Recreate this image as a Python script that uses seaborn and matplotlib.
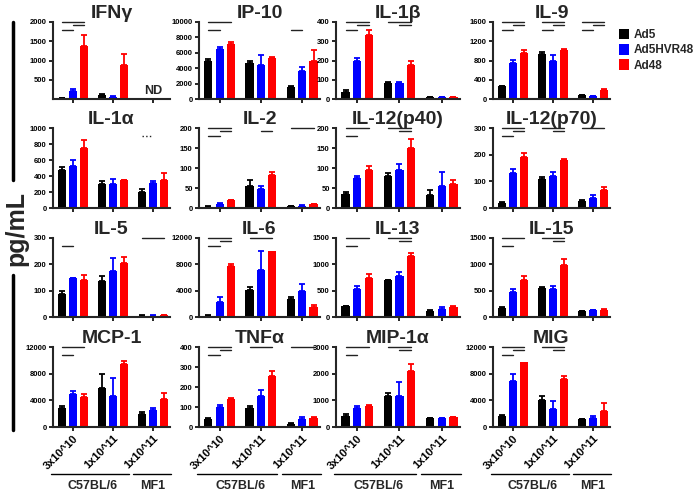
import numpy as np
import pandas as pd
import matplotlib
matplotlib.use('Agg')
import matplotlib.pyplot as plt
import matplotlib.transforms as mtransforms
from matplotlib.lines import Line2D
from matplotlib.patches import Patch
import seaborn as sns

VIRUSES = ['Ad5', 'Ad5HVR48', 'Ad48']
COLOURS = {'Ad5': '#000000', 'Ad5HVR48': '#0000FF', 'Ad48': '#FF0000'}
GROUPS = ['g1', 'g2', 'g3']
DOSES = ['3x10^10', '1x10^11', '1x10^11']
STRAINS = ['C57BL/6', 'MF1']

ND = np.nan

# means: one row per dose group, columns follow VIRUSES; *_ERR = upper error bar
IFNG = [[20, 210, 1380], [100, 60, 880], [ND, ND, ND]]
IFNG_ERR = [[10, 40, 290], [20, 15, 300], [ND, ND, ND]]
IP10 = [[5000, 6500, 7200], [4700, 4400, 5300], [1600, 3600, 5000]]
IP10_ERR = [[250, 200, 250], [200, 1300, 150], [100, 500, 1350]]
IL1B = [[35, 200, 335], [85, 85, 175], [8, 10, 10]]
IL1B_ERR = [[12, 12, 25], [2, 2, 25], [2, 2, 2]]
IL9 = [[260, 740, 960], [930, 800, 1015], [75, 62, 180]]
IL9_ERR = [[20, 70, 50], [50, 120, 30], [5, 5, 25]]

IL1A = [[470, 530, 745], [300, 300, 345], [205, 315, 345]]
IL1A_ERR = [[40, 65, 105], [35, 65, 5], [30, 20, 90]]
IL2 = [[3, 10, 19], [55, 48, 83], [5, 6, 10]]
IL2_ERR = [[1, 2, 2], [14, 7, 8], [1, 1, 1]]
IL12P40 = [[35, 74, 95], [80, 95, 150], [32, 55, 60]]
IL12P40_ERR = [[5, 5, 11], [8, 16, 22], [12, 36, 11]]
IL12P70 = [[17, 132, 191], [109, 119, 181], [26, 38, 68]]
IL12P70_ERR = [[5, 15, 16], [6, 15, 4], [5, 10, 12]]

IL5 = [[88, 147, 140], [136, 175, 204], [5, 5, 8]]
IL5_ERR = [[9, 2, 18], [20, 48, 23], [1, 1, 1]]
IL6 = [[200, 2300, 7750], [4100, 7200, 10000], [2800, 3950, 1500]]
IL6_ERR = [[60, 700, 350], [400, 2900, 0], [250, 1000, 350]]
IL13 = [[200, 530, 740], [695, 773, 1160], [123, 156, 188]]
IL13_ERR = [[15, 50, 75], [12, 75, 60], [8, 30, 15]]
IL15 = [[171, 475, 700], [550, 540, 995], [114, 127, 139]]
IL15_ERR = [[20, 60, 80], [15, 50, 100], [5, 15, 10]]

MCP1 = [[2900, 5000, 4500], [5800, 4600, 9500], [1900, 2600, 4250]]
MCP1_ERR = [[300, 400, 400], [2100, 2800, 400], [300, 300, 800]]
TNFA = [[42, 102, 139], [97, 153, 255], [17, 42, 47]]
TNFA_ERR = [[5, 10, 8], [7, 33, 25], [3, 10, 4]]
MIP1A = [[420, 730, 805], [1180, 1180, 2115], [320, 320, 360]]
MIP1A_ERR = [[60, 40, 30], [100, 490, 250], [20, 20, 30]]
MIG = [[1690, 6900, 9800], [4000, 2670, 7230], [1130, 1280, 2460]]
MIG_ERR = [[150, 1000, 0], [700, 1300, 350], [80, 400, 1100]]

# significance lines: (group, bar from, bar to[, linestyle])
FULL = [(0, 2), (1, 2), (0, 1)]
IFNG_SIG = [(0, a, b) for a, b in FULL]
IP10_SIG = [(0, 0, 2), (0, 0, 1), (2, 0, 1)]
IL1B_SIG = [(0, a, b) for a, b in FULL] + [(1, 0, 2), (1, 1, 2)]
IL9_SIG = [(g, a, b) for g in range(3) for a, b in FULL]
IL1A_SIG = [(2, 0, 1, ':')]
IL2_SIG = [(0, a, b) for a, b in FULL] + [(1, 1, 2), (2, 0, 2)]
IL12P40_SIG = [(0, 0, 2), (0, 0, 1), (1, 0, 2), (1, 1, 2)]
IL12P70_SIG = [(0, a, b) for a, b in FULL] + [(1, 0, 2), (1, 1, 2), (2, 0, 2)]
IL5_SIG = [(0, 0, 1), (2, 0, 2)]
IL6_SIG = [(0, a, b) for a, b in FULL] + [(1, 0, 2)]
IL13_SIG = [(0, 0, 2), (0, 0, 1), (1, 0, 2), (1, 1, 2)]
IL15_SIG = [(0, 0, 2), (0, 0, 1), (1, 0, 2), (1, 1, 2)]
MCP1_SIG = [(0, 0, 2), (0, 0, 1)]
TNFA_SIG = [(0, a, b) for a, b in FULL] + [(1, 0, 2), (2, 0, 2)]
MIP1A_SIG = [(0, 0, 2), (0, 0, 1), (1, 0, 2), (1, 1, 2)]
MIG_SIG = [(0, a, b) for a, b in FULL] + [(1, 0, 2), (1, 1, 2)]

PANELS = [
    [('IFNγ', IFNG, IFNG_ERR, 2000, 500, IFNG_SIG),
     ('IP-10', IP10, IP10_ERR, 10000, 2000, IP10_SIG),
     ('IL-1β', IL1B, IL1B_ERR, 400, 100, IL1B_SIG),
     ('IL-9', IL9, IL9_ERR, 1600, 400, IL9_SIG)],
    [('IL-1α', IL1A, IL1A_ERR, 1000, 200, IL1A_SIG),
     ('IL-2', IL2, IL2_ERR, 200, 50, IL2_SIG),
     ('IL-12(p40)', IL12P40, IL12P40_ERR, 200, 50, IL12P40_SIG),
     ('IL-12(p70)', IL12P70, IL12P70_ERR, 300, 100, IL12P70_SIG)],
    [('IL-5', IL5, IL5_ERR, 300, 100, IL5_SIG),
     ('IL-6', IL6, IL6_ERR, 12000, 4000, IL6_SIG),
     ('IL-13', IL13, IL13_ERR, 1500, 500, IL13_SIG),
     ('IL-15', IL15, IL15_ERR, 1500, 500, IL15_SIG)],
    [('MCP-1', MCP1, MCP1_ERR, 12000, 4000, MCP1_SIG),
     ('TNFα', TNFA, TNFA_ERR, 400, 100, TNFA_SIG),
     ('MIP-1α', MIP1A, MIP1A_ERR, 3000, 1000, MIP1A_SIG),
     ('MIG', MIG, MIG_ERR, 12000, 4000, MIG_SIG)],
]

SIG_LEVEL = {(0, 2): 1.0, (1, 2): 0.965, (0, 1): 0.9}
BAR_STEP = 0.275

W, H = 696, 496
COL_X = [53, 199, 336, 493]
COL_W = [117, 121, 124, 117]
ROW_TOP = [22, 128, 238, 347]
ROW_H = [77, 80, 79, 80]

sns.set_theme(style='ticks')
plt.rcParams['font.family'] = ['Liberation Sans', 'DejaVu Sans']


def draw_panel(ax, title, means, errs, ymax, step, sig, bottom):
    rows = []
    for gi, g in enumerate(GROUPS):
        for vi, v in enumerate(VIRUSES):
            if not np.isnan(means[gi][vi]):
                rows.append({'group': g, 'virus': v, 'value': means[gi][vi]})
    df = pd.DataFrame(rows)

    sns.barplot(data=df, x='group', y='value', hue='virus', order=GROUPS,
                hue_order=VIRUSES, palette=COLOURS, errorbar=None, width=0.825,
                gap=0.27, saturation=1, linewidth=0, legend=False, ax=ax)

    for vi, (container, virus) in enumerate(zip(ax.containers, VIRUSES)):
        for bar in container:
            xc = bar.get_x() + bar.get_width() / 2
            gi = int(round(xc))
            err = errs[gi][vi]
            if np.isnan(err) or err <= 0:
                continue
            ax.errorbar(xc, bar.get_height(), yerr=[[0], [err]], fmt='none',
                        ecolor=COLOURS[virus], elinewidth=1.3, capsize=2,
                        capthick=1.3)

    if np.isnan(means[2][0]):
        ax.text(2, ymax * 0.03, 'ND', ha='center', va='bottom', fontsize=9,
                fontweight='bold')

    trans = mtransforms.blended_transform_factory(ax.transData, ax.transAxes)
    for s in sig:
        g, a, b = s[:3]
        ls = s[3] if len(s) > 3 else '-'
        y = SIG_LEVEL[(a, b)]
        ax.plot([g + (a - 1) * BAR_STEP, g + (b - 1) * BAR_STEP], [y, y],
                transform=trans, color='#222222', lw=1, ls=ls, clip_on=False)

    ax.set_xlim(-0.5, 2.43)
    ax.set_ylim(0, ymax)
    ticks = np.arange(0, ymax + 1, step)
    if title == 'IFNγ':
        ticks = ticks[1:]
    ax.set_yticks(ticks)
    ax.set_yticklabels([f'{int(t)}' for t in ticks], fontsize=5.5,
                       fontweight='bold')
    ax.set_xticks([0, 1, 2])
    if bottom:
        ax.set_xticklabels(DOSES, rotation=45, ha='right',
                           rotation_mode='anchor', fontsize=8,
                           fontweight='bold')
    else:
        ax.set_xticklabels([])
    ax.set_xlabel('')
    ax.set_ylabel('')
    ax.set_title(title, fontsize=14, fontweight='bold', pad=3)
    sns.despine(ax=ax)
    for side in ('left', 'bottom'):
        ax.spines[side].set_linewidth(1.5)
    ax.tick_params(length=3, width=1.2, pad=1.5, colors='black')

    if bottom:
        ax.plot([-0.55, 1.4], [-0.59, -0.59], transform=trans, color='black',
                lw=1, clip_on=False)
        ax.plot([1.5, 2.45], [-0.59, -0.59], transform=trans, color='black',
                lw=1, clip_on=False)
        ax.text(0.5, -0.74, STRAINS[0], transform=trans, ha='center',
                va='center', fontsize=9, fontweight='bold')
        ax.text(2.0, -0.74, STRAINS[1], transform=trans, ha='center',
                va='center', fontsize=9, fontweight='bold')


fig = plt.figure(figsize=(W / 100, H / 100), dpi=100)

for r, row in enumerate(PANELS):
    for c, (title, means, errs, ymax, step, sig) in enumerate(row):
        ax = fig.add_axes([COL_X[c] / W, 1 - (ROW_TOP[r] + ROW_H[r]) / H,
                           COL_W[c] / W, ROW_H[r] / H])
        draw_panel(ax, title, means, errs, ymax, step, sig, r == 3)

fig.text(16 / W, 1 - 228 / H, 'pg/mL', rotation=90, ha='center', va='center',
         fontsize=18, fontweight='bold')
fig.add_artist(Line2D([13 / W, 13 / W], [1 - 22 / H, 1 - 180 / H],
                      color='black', lw=2.5))
fig.add_artist(Line2D([13 / W, 13 / W], [1 - 275 / H, 1 - 430 / H],
                      color='black', lw=2.5))

handles = [Patch(facecolor=COLOURS[v], edgecolor='none', label=v)
           for v in VIRUSES]
fig.legend(handles=handles, loc='upper left',
           bbox_to_anchor=(614 / W, 1 - 24 / H), frameon=False,
           prop={'size': 8.5, 'weight': 'bold'}, handlelength=0.9,
           handleheight=1.0, handletextpad=0.4, labelspacing=0.25,
           borderaxespad=0)

fig.savefig('out.png', dpi=100)
